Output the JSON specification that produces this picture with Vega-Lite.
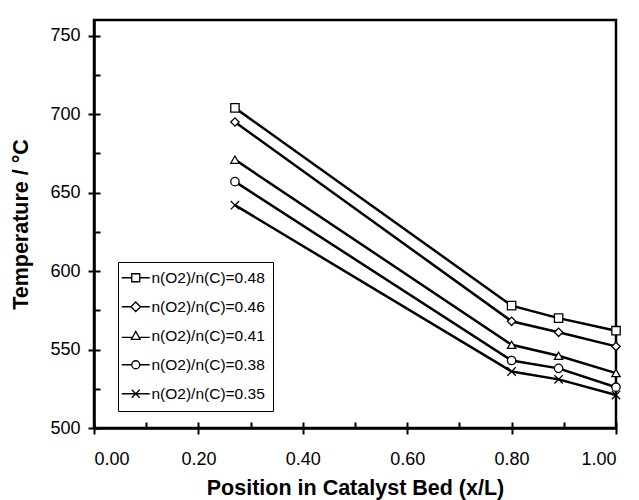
{
  "$schema": "https://vega.github.io/schema/vega-lite/v6.json",
  "width": 522,
  "height": 408,
  "autosize": {"type": "none"},
  "padding": {"left": 94, "top": 20, "right": 23, "bottom": 72},
  "background": "white",
  "config": {
    "font": "Liberation Sans",
    "view": {"stroke": "black", "strokeWidth": 2.5},
    "axis": {
      "grid": false,
      "domainColor": "black",
      "domainWidth": 2.5,
      "tickColor": "black",
      "tickWidth": 2,
      "labelColor": "black",
      "labelFont": "Liberation Sans",
      "labelFontSize": 18,
      "titleColor": "black",
      "titleFont": "Liberation Sans",
      "titleFontSize": 21.5,
      "titleFontWeight": "bold"
    },
    "legend": {
      "orient": "none",
      "legendX": 24,
      "legendY": 242,
      "strokeColor": "black",
      "strokeWidth": 1,
      "fillColor": "white",
      "padding": 8,
      "rowPadding": 12,
      "labelFont": "Liberation Sans",
      "labelFontSize": 15.5,
      "labelColor": "black",
      "symbolSize": 64,
      "symbolStrokeWidth": 1.3,
      "symbolStrokeColor": "black",
      "symbolFillColor": "white",
      "symbolOpacity": 1,
      "symbolOffset": 2,
      "labelOffset": 8
    }
  },
  "data": {
    "values": [
      {"ratio": "n(O2)/n(C)=0.48", "pos": 0.27, "temp": 704},
      {"ratio": "n(O2)/n(C)=0.48", "pos": 0.80, "temp": 578},
      {"ratio": "n(O2)/n(C)=0.48", "pos": 0.89, "temp": 570},
      {"ratio": "n(O2)/n(C)=0.48", "pos": 1.00, "temp": 562},
      {"ratio": "n(O2)/n(C)=0.46", "pos": 0.27, "temp": 695},
      {"ratio": "n(O2)/n(C)=0.46", "pos": 0.80, "temp": 568},
      {"ratio": "n(O2)/n(C)=0.46", "pos": 0.89, "temp": 561},
      {"ratio": "n(O2)/n(C)=0.46", "pos": 1.00, "temp": 552},
      {"ratio": "n(O2)/n(C)=0.41", "pos": 0.27, "temp": 671},
      {"ratio": "n(O2)/n(C)=0.41", "pos": 0.80, "temp": 553},
      {"ratio": "n(O2)/n(C)=0.41", "pos": 0.89, "temp": 546},
      {"ratio": "n(O2)/n(C)=0.41", "pos": 1.00, "temp": 535},
      {"ratio": "n(O2)/n(C)=0.38", "pos": 0.27, "temp": 657},
      {"ratio": "n(O2)/n(C)=0.38", "pos": 0.80, "temp": 543},
      {"ratio": "n(O2)/n(C)=0.38", "pos": 0.89, "temp": 538},
      {"ratio": "n(O2)/n(C)=0.38", "pos": 1.00, "temp": 526},
      {"ratio": "n(O2)/n(C)=0.35", "pos": 0.27, "temp": 642},
      {"ratio": "n(O2)/n(C)=0.35", "pos": 0.80, "temp": 536},
      {"ratio": "n(O2)/n(C)=0.35", "pos": 0.89, "temp": 531},
      {"ratio": "n(O2)/n(C)=0.35", "pos": 1.00, "temp": 521}
    ]
  },
  "resolve": {
    "axis": {"x": "independent", "y": "independent"},
    "scale": {"shape": "independent"}
  },
  "layer": [
    {
      "mark": {"type": "line", "stroke": "black", "strokeWidth": 2.5},
      "encoding": {
        "x": {
          "field": "pos", "type": "quantitative",
          "scale": {"domain": [0, 1]},
          "axis": {
            "orient": "bottom",
            "values": [0, 0.2, 0.4, 0.6, 0.8, 1],
            "format": ".2f",
            "tickSize": 6,
            "labelPadding": 16,
            "title": "Position in Catalyst Bed (x/L)",
            "titlePadding": 9
          }
        },
        "y": {
          "field": "temp", "type": "quantitative",
          "scale": {"domain": [500, 750]},
          "axis": {
            "orient": "left",
            "values": [500, 550, 600, 650, 700, 750],
            "tickSize": 6,
            "labelPadding": 8,
            "title": "Temperature  / °C",
            "titlePadding": 17
          }
        },
        "detail": {"field": "ratio"}
      }
    },
    {
      "mark": {"type": "point", "filled": true, "fill": "white", "stroke": "black", "strokeWidth": 1.3, "opacity": 1, "size": 70},
      "encoding": {
        "x": {
          "field": "pos", "type": "quantitative",
          "axis": {
            "orient": "bottom",
            "values": [0, 0.1, 0.2, 0.3, 0.4, 0.5, 0.6, 0.7, 0.8, 0.9, 1],
            "tickSize": -6,
            "labels": false,
            "domain": false,
            "title": null
          }
        },
        "y": {
          "field": "temp", "type": "quantitative",
          "axis": {
            "orient": "left",
            "values": [500, 525, 550, 575, 600, 625, 650, 675, 700, 725, 750],
            "tickSize": -6,
            "labels": false,
            "domain": false,
            "title": null
          }
        },
        "shape": {
          "field": "ratio", "type": "nominal",
          "scale": {
            "domain": ["n(O2)/n(C)=0.48", "n(O2)/n(C)=0.46", "n(O2)/n(C)=0.41", "n(O2)/n(C)=0.38", "n(O2)/n(C)=0.35"],
            "range": ["square", "diamond", "triangle-up", "circle", "M-1,-1L1,1M-1,1L1,-1"]
          },
          "legend": null
        }
      }
    },
    {
      "transform": [{"filter": "false"}],
      "mark": {"type": "point", "filled": false, "color": "black", "strokeWidth": 1.3, "size": 64, "opacity": 1},
      "encoding": {
        "x": {"field": "pos", "type": "quantitative", "axis": null},
        "y": {"field": "temp", "type": "quantitative", "axis": null},
        "shape": {
          "field": "ratio", "type": "nominal",
          "scale": {
            "domain": ["n(O2)/n(C)=0.48", "n(O2)/n(C)=0.46", "n(O2)/n(C)=0.41", "n(O2)/n(C)=0.38", "n(O2)/n(C)=0.35"],
            "range": [
              "M-3.5,0H-1M1,0H3.5M-1,-1H1V1H-1Z",
              "M-3.5,0H-1.2M1.2,0H3.5M0,-1.2L1.2,0L0,1.2L-1.2,0Z",
              "M-3.5,0.4H-0.8M0.8,0.4H3.5M0,-1.1L1.1,0.9H-1.1Z",
              "M-3.5,0H-1M1,0H3.5M-1,0A1,1 0 1,0 1,0A1,1 0 1,0 -1,0Z",
              "M-3.5,0H3.5M-1,-1L1,1M-1,1L1,-1"
            ]
          },
          "legend": {"title": null}
        }
      }
    }
  ]
}
